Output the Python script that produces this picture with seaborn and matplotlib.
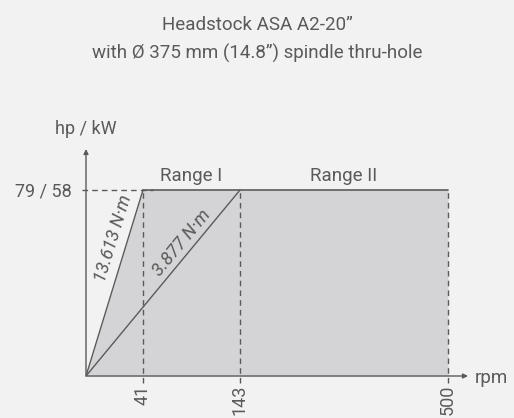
import numpy as np
import seaborn as sns
import matplotlib
matplotlib.use("Agg")
import matplotlib.pyplot as plt
from matplotlib.transforms import IdentityTransform

# data
rpm_ticks = [41, 143, 500]
power_max = 79
power_label = "79 / 58"
torque_labels = ["13.613 N·m", "3.877 N·m"]
torque_end_rpm = [41, 143]
range_names = ["Range I", "Range II"]
title1 = "Headstock ASA A2-20”"
title2 = "with Ø 375 mm (14.8”) spindle thru-hole"

GRAY = "#5a5a5a"
BG = "#f2f2f2"
FILL = "#d4d4d6"

sns.set_theme(style="white", rc={"figure.facecolor": BG, "axes.facecolor": BG})
plt.rcParams["font.family"] = ["Roboto", "DejaVu Sans"]

# schematic (non proportional) rpm axis, piecewise linear
a_rpm = np.array([0, 41, 143, 500])
a_pos = np.array([0, 57, 154, 362])


def fwd(x):
    x = np.asarray(x, dtype=float)
    y = np.interp(x, a_rpm, a_pos)
    y = np.where(x > 500, 362 + (x - 500) * 208 / 357, y)
    y = np.where(x < 0, x * 57 / 41, y)
    return y


def inv(y):
    y = np.asarray(y, dtype=float)
    x = np.interp(y, a_pos, a_rpm)
    x = np.where(y > 362, 500 + (y - 362) * 357 / 208, x)
    x = np.where(y < 0, y * 41 / 57, x)
    return x


fig = plt.figure(figsize=(5.14, 4.18), dpi=100)
W, H = 514, 418
ax = fig.add_axes([86 / W, (H - 376) / H, 382 / W, 227 / H])
ax.set_xscale("function", functions=(fwd, inv))
xmax = float(inv(382))
ymax = 79 * 227 / 186
ax.set_xlim(0, xmax)
ax.set_ylim(0, ymax)
for s in ax.spines.values():
    s.set_visible(False)

# shaded working area
ax.fill_between([0, torque_end_rpm[0], rpm_ticks[-1]], [0, power_max, power_max], 0,
                color=FILL, lw=0, zorder=1)

# torque lines and constant power line
for r in torque_end_rpm:
    sns.lineplot(x=[0, r], y=[0, power_max], ax=ax, color=GRAY, lw=1, zorder=3)
ax.plot([torque_end_rpm[0], rpm_ticks[-1]], [power_max, power_max], color=GRAY, lw=1.2, zorder=3)

# dashed guides
ax.vlines(rpm_ticks, -2.8, power_max, colors=GRAY, linestyles=(0, (4, 3)), lw=1,
          clip_on=False, zorder=2)
ax.hlines(power_max, -3, 52, colors=GRAY, linestyles=(0, (4, 3)), lw=1, clip_on=False, zorder=2)

# axes with arrows
arrow = dict(arrowstyle="-|>", color=GRAY, lw=1, mutation_scale=7, shrinkA=0, shrinkB=0)
ax.annotate("", xy=(1, 0), xytext=(0, 0), xycoords="axes fraction", arrowprops=arrow)
ax.annotate("", xy=(0, 1), xytext=(0, 0), xycoords="axes fraction", arrowprops=arrow)

ax.set_xticks(rpm_ticks)
ax.set_xticklabels([str(v) for v in rpm_ticks], rotation=90)
ax.set_yticks([power_max])
ax.set_yticklabels([power_label])
ax.tick_params(axis="x", length=0, pad=6, labelsize=13, labelcolor=GRAY)
ax.tick_params(axis="y", length=0, pad=10, labelsize=13, labelcolor=GRAY)
ax.minorticks_off()

ax.annotate("hp / kW", xy=(0, 1), xycoords="axes fraction", xytext=(0, 11),
            textcoords="offset points", ha="center", va="baseline", fontsize=13, color=GRAY)
ax.annotate("rpm", xy=(1, 0), xycoords="axes fraction", xytext=(5, -5),
            textcoords="offset points", ha="left", va="baseline", fontsize=13.5, color=GRAY)

# range labels
bounds = [rpm_ticks[0], rpm_ticks[1], rpm_ticks[2]]
for i, name in enumerate(range_names):
    xm = float(inv((fwd(bounds[i]) + fwd(bounds[i + 1])) / 2))
    ax.annotate(name, xy=(xm, power_max), xytext=(0, 6.5), textcoords="offset points",
                ha="center", va="baseline", fontsize=13.5, color=GRAY)


def line_label(x1, y1, t, text, off):
    p0 = ax.transData.transform((0, 0))
    p1 = ax.transData.transform((x1, y1))
    d = p1 - p0
    L = np.hypot(*d)
    n = np.array([-d[1], d[0]]) / L
    p = p0 + t * d + off * n
    ang = np.degrees(np.arctan2(d[1], d[0]))
    ax.text(p[0], p[1], text, transform=IdentityTransform(), rotation=ang,
            rotation_mode="anchor", ha="center", va="center", fontsize=13,
            style="italic", color=GRAY)


line_label(torque_end_rpm[0], power_max, 0.717, torque_labels[0], 14)
line_label(torque_end_rpm[1], power_max, 0.678, torque_labels[1], 11)

fig.text(0.5, 1 - 30 / H, title1, ha="center", va="baseline", fontsize=13.5, color=GRAY)
fig.text(0.5, 1 - 59 / H, title2, ha="center", va="baseline", fontsize=13.5, color=GRAY)

fig.savefig("out.png", dpi=100, facecolor=BG)
